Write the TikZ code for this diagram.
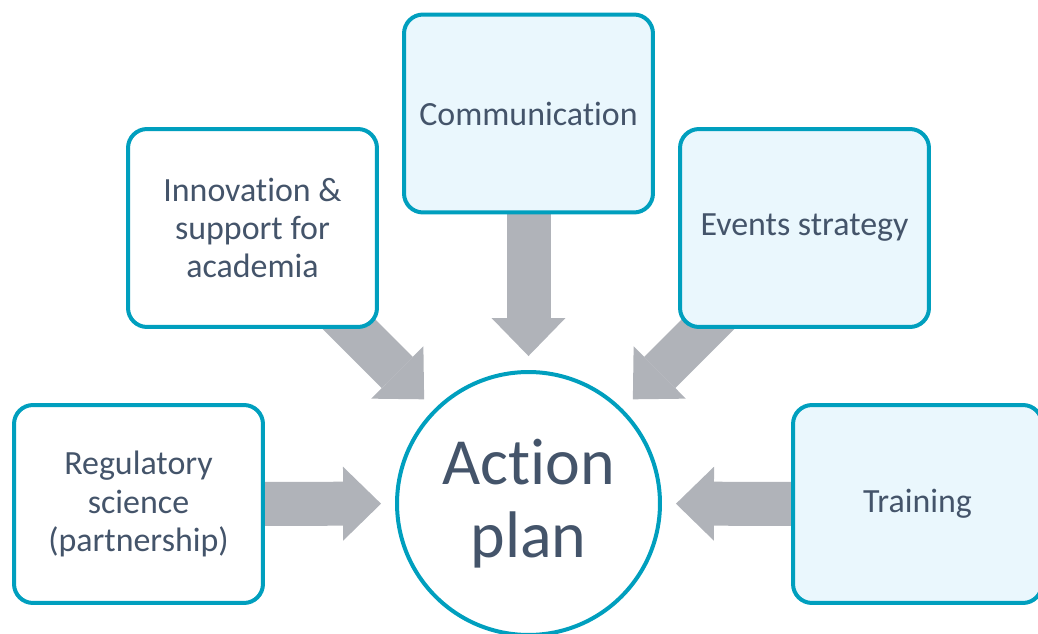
\documentclass[tikz,border=0pt]{standalone}
\usepackage{fontspec}
\setmainfont{Carlito}[Ligatures=NoCommon]
\usetikzlibrary{arrows.meta,backgrounds}
\definecolor{boxline}{RGB}{0,159,190}
\definecolor{boxfill}{RGB}{234,247,253}
\definecolor{arrowgray}{RGB}{176,179,185}
\definecolor{txt}{RGB}{68,84,106}
\tikzset{
  box/.style={draw=boxline, fill=white, line width=0.08cm, rounded corners=0.38cm,
    minimum width=4.98cm, minimum height=3.96cm, text=txt, align=center,
    font=\fontsize{19.3}{21.7}\selectfont},
  goal/.style={circle, draw=boxline, fill=white, line width=0.08cm, minimum size=5.26cm,
    text=txt, align=center, font=\fontsize{37.5}{41.4}\selectfont},
  bigarrow/.style={draw=arrowgray, line width=0.88cm,
    -{Triangle[length=0.76cm, width=1.48cm, line width=0pt]}, shorten >=0.28cm}
}
\begin{document}
\begin{tikzpicture}[x=0.02cm, y=-0.02cm]
\useasboundingbox (0,0) rectangle (1038,634);
\clip (0,0) rectangle (1038,634);
\node[goal] (plan) at (528.5,503.5) {Action\\plan};
\node[box, fill=boxfill] (comm) at (528.5,113.5) {Communication};
\node[box] (inno) at (252.5,228) {Innovation \&\\support for\\academia};
\node[box, fill=boxfill] (events) at (804.5,228) {Events strategy};
\node[box] (reg) at (138.5,504) {Regulatory\\science\\(partnership)};
\node[box, fill=boxfill] (train) at (917.5,504) {Training};
\begin{scope}[on background layer]
\foreach \from in {comm, inno, events, reg, train}
  \draw[bigarrow] (\from.center) -- (plan);
\end{scope}
\end{tikzpicture}
\end{document}
